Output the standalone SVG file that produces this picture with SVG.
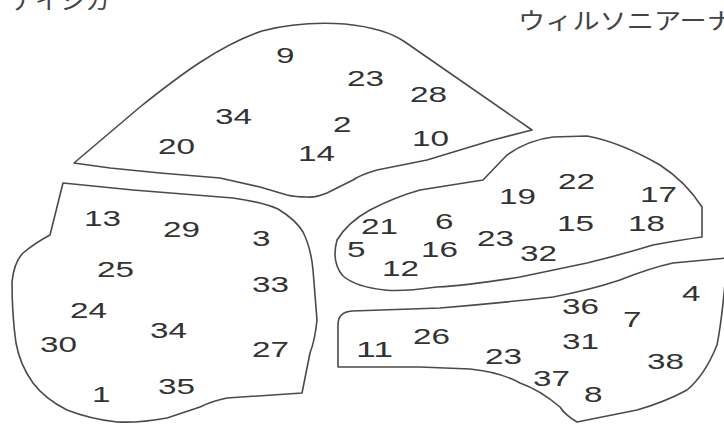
<svg xmlns="http://www.w3.org/2000/svg" width="724" height="424" viewBox="0 0 724 424">
<style>
.r{fill:#fff;stroke:#4a4a4a;stroke-width:1.6;stroke-linejoin:round}
.n{font-family:"Liberation Sans",Arial,sans-serif;font-size:22px;fill:#333}
.j{font-family:"Noto Sans CJK JP","Noto Sans CJK SC",sans-serif;font-size:23px;fill:#444}
</style>
<rect width="724" height="424" fill="#fff"/>
<text class="j" x="10" y="9" textLength="100" lengthAdjust="spacingAndGlyphs">ナイシカ</text>
<text class="j" x="518" y="29" textLength="216" lengthAdjust="spacingAndGlyphs">ウィルソニアーナ</text>
<g id="region-top">
<path class="r" d="M74,163 L140,107 C180,75 220,45 262,31 Q300,21 345,24 Q385,28 405,42 L532,130 L493,140 L427,160 L377,170 Q360,175 353,180 L327,193 Q315,198 307,197 Q295,197 287,195 L260,187 L220,178 L160,173 L110,168 Z"/>
<text class="n" x="276" y="63" textLength="18.5" lengthAdjust="spacingAndGlyphs">9</text>
<text class="n" x="347" y="86" textLength="37" lengthAdjust="spacingAndGlyphs">23</text>
<text class="n" x="410" y="102" textLength="37" lengthAdjust="spacingAndGlyphs">28</text>
<text class="n" x="215" y="124" textLength="37" lengthAdjust="spacingAndGlyphs">34</text>
<text class="n" x="333" y="132" textLength="18.5" lengthAdjust="spacingAndGlyphs">2</text>
<text class="n" x="412" y="146" textLength="37" lengthAdjust="spacingAndGlyphs">10</text>
<text class="n" x="158" y="154" textLength="37" lengthAdjust="spacingAndGlyphs">20</text>
<text class="n" x="298" y="161" textLength="37" lengthAdjust="spacingAndGlyphs">14</text>
</g>
<g id="region-left">
<path class="r" d="M63,183 L133,190 L233,198 Q262,202 278,209 Q296,220 303,232 Q311,248 313,270 L317,320 Q315,340 310,353 L302,393 L227,398 Q212,401 200,407 L167,418 Q140,423 117,422 Q90,419 67,410 Q45,399 33,383 Q20,365 16,343 Q12,315 12,282 Q14,262 23,253 Q35,243 50,235 Z"/>
<text class="n" x="84" y="226" textLength="37" lengthAdjust="spacingAndGlyphs">13</text>
<text class="n" x="163" y="237" textLength="37" lengthAdjust="spacingAndGlyphs">29</text>
<text class="n" x="252" y="246" textLength="18.5" lengthAdjust="spacingAndGlyphs">3</text>
<text class="n" x="97" y="277" textLength="37" lengthAdjust="spacingAndGlyphs">25</text>
<text class="n" x="252" y="292" textLength="37" lengthAdjust="spacingAndGlyphs">33</text>
<text class="n" x="70" y="318" textLength="37" lengthAdjust="spacingAndGlyphs">24</text>
<text class="n" x="150" y="338" textLength="37" lengthAdjust="spacingAndGlyphs">34</text>
<text class="n" x="40" y="352" textLength="37" lengthAdjust="spacingAndGlyphs">30</text>
<text class="n" x="252" y="357" textLength="37" lengthAdjust="spacingAndGlyphs">27</text>
<text class="n" x="158" y="394" textLength="37" lengthAdjust="spacingAndGlyphs">35</text>
<text class="n" x="92" y="402" textLength="18.5" lengthAdjust="spacingAndGlyphs">1</text>
</g>
<g id="region-middle">
<path class="r" d="M483,180 L507,155 Q528,140 553,137 L587,136 Q620,142 660,165 Q686,182 702,207 L702,237 Q680,240 653,245 Q620,255 587,263 L520,277 Q470,285 437,287 Q400,292 385,290 Q356,287 343,276 Q331,262 337,240 Q348,222 370,210 Q395,197 420,190 Z"/>
<text class="n" x="558" y="189" textLength="37" lengthAdjust="spacingAndGlyphs">22</text>
<text class="n" x="640" y="202" textLength="37" lengthAdjust="spacingAndGlyphs">17</text>
<text class="n" x="499" y="204" textLength="37" lengthAdjust="spacingAndGlyphs">19</text>
<text class="n" x="435" y="229" textLength="18.5" lengthAdjust="spacingAndGlyphs">6</text>
<text class="n" x="557" y="231" textLength="37" lengthAdjust="spacingAndGlyphs">15</text>
<text class="n" x="628" y="231" textLength="37" lengthAdjust="spacingAndGlyphs">18</text>
<text class="n" x="361" y="234" textLength="37" lengthAdjust="spacingAndGlyphs">21</text>
<text class="n" x="477" y="246" textLength="37" lengthAdjust="spacingAndGlyphs">23</text>
<text class="n" x="347" y="257" textLength="18.5" lengthAdjust="spacingAndGlyphs">5</text>
<text class="n" x="421" y="257" textLength="37" lengthAdjust="spacingAndGlyphs">16</text>
<text class="n" x="520" y="261" textLength="37" lengthAdjust="spacingAndGlyphs">32</text>
<text class="n" x="382" y="276" textLength="37" lengthAdjust="spacingAndGlyphs">12</text>
</g>
<g id="region-bottom-right">
<path class="r" d="M338,367 L338,325 Q338,312 352,311 L440,308 Q500,303 553,297 Q590,290 620,280 Q650,268 673,263 L726,258 L726,272 Q722,320 717,345 Q705,375 687,390 Q665,402 637,410 L577,422 Q565,415 560,407 Q540,390 520,383 Q500,372 470,369 L420,367 Z"/>
<text class="n" x="682" y="301" textLength="18.5" lengthAdjust="spacingAndGlyphs">4</text>
<text class="n" x="562" y="314" textLength="37" lengthAdjust="spacingAndGlyphs">36</text>
<text class="n" x="623" y="327" textLength="18.5" lengthAdjust="spacingAndGlyphs">7</text>
<text class="n" x="413" y="344" textLength="37" lengthAdjust="spacingAndGlyphs">26</text>
<text class="n" x="562" y="349" textLength="37" lengthAdjust="spacingAndGlyphs">31</text>
<text class="n" x="356" y="357" textLength="37" lengthAdjust="spacingAndGlyphs">11</text>
<text class="n" x="485" y="364" textLength="37" lengthAdjust="spacingAndGlyphs">23</text>
<text class="n" x="647" y="369" textLength="37" lengthAdjust="spacingAndGlyphs">38</text>
<text class="n" x="533" y="386" textLength="37" lengthAdjust="spacingAndGlyphs">37</text>
<text class="n" x="584" y="402" textLength="18.5" lengthAdjust="spacingAndGlyphs">8</text>
</g>
</svg>
